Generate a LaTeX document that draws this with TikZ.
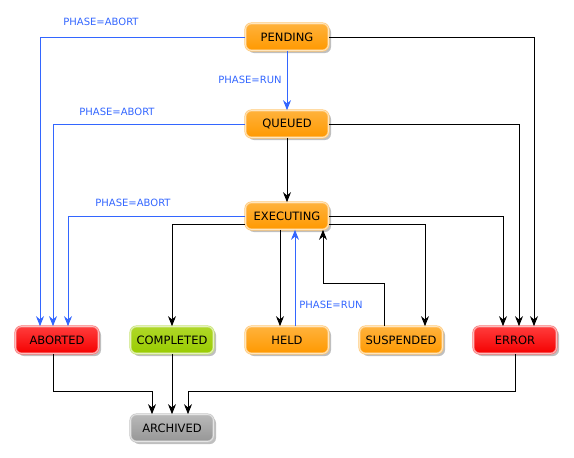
\documentclass[tikz,border=0pt]{standalone}
\usepackage{fontspec}
\setmainfont{DejaVu Sans}
\usetikzlibrary{arrows.meta,shadows,calc}
\definecolor{lblue}{RGB}{51,102,255}
\definecolor{orangeA}{RGB}{255,153,0}
\definecolor{orangeB}{RGB}{255,178,60}
\definecolor{redA}{RGB}{245,0,0}
\definecolor{redB}{RGB}{255,60,60}
\definecolor{greenA}{RGB}{153,204,0}
\definecolor{greenB}{RGB}{175,215,40}
\definecolor{greyA}{RGB}{150,150,150}
\definecolor{greyB}{RGB}{185,185,185}
\tikzset{
  state/.style n args={3}{rounded corners=6pt, minimum width=83pt, minimum height=27pt,
    inner sep=0pt, top color=#2, bottom color=#1, draw=#1!55!white, line width=0.7pt,
    double=#1!25!white, double distance=0.7pt,
    drop shadow={shadow xshift=2.5pt, shadow yshift=-2.5pt, opacity=0.25, fill=black},
    font=\fontsize{11.5}{13}\selectfont, text=black},
  orangebox/.style={state={orangeA}{orangeB}{}},
  redbox/.style={state={redA}{redB}{}},
  greenbox/.style={state={greenA}{greenB}{}},
  greybox/.style={state={greyA}{greyB}{}},
  conn/.style={draw=black, line width=0.9pt, -{Stealth[length=10pt,width=8pt]}},
  bconn/.style={draw=lblue, line width=0.9pt, -{Stealth[length=10pt,width=8pt]}},
  lbl/.style={text=lblue, font=\fontsize{10}{11}\selectfont, inner sep=0pt},
}
\begin{document}
\begin{tikzpicture}[x=1pt,y=-1pt]
\useasboundingbox (0,0) rectangle (574,458);
\node[orangebox] (pending) at (287,37) {PENDING};
\node[orangebox] (queued) at (287,124) {QUEUED};
\node[orangebox] (executing) at (287,216) {EXECUTING};
\node[redbox] (aborted) at (57,340) {ABORTED};
\node[greenbox] (completed) at (172,340) {COMPLETED};
\node[orangebox] (held) at (287,340) {HELD};
\node[orangebox] (suspended) at (401,340) {SUSPENDED};
\node[redbox] (error) at (515,340) {ERROR};
\node[greybox] (archived) at (172,428) {ARCHIVED};

\node[lbl] (l1) at (101,22) {PHASE=ABORT};
\node[lbl] (l2) at (250,80) {PHASE=RUN};
\node[lbl] (l3) at (117,112) {PHASE=ABORT};
\node[lbl] (l4) at (133,203) {PHASE=ABORT};
\node[lbl] (l5) at (331,305) {PHASE=RUN};

\draw[bconn] (pending.west) -| ([xshift=-17pt]aborted.north);
\draw[bconn] (pending.south) -- (queued.north);
\draw[conn] (pending.east) -| ([xshift=19pt]error.north);
\draw[bconn] (queued.west) -| ([xshift=-4pt]aborted.north);
\draw[conn] (queued.east) -| ([xshift=4pt]error.north);
\draw[conn] (queued.south) -- (executing.north);
\draw[bconn] (executing.west) -| ([xshift=11pt]aborted.north);
\draw[conn] ([yshift=-8pt]executing.west) -| (completed.north);
\draw[conn] ([xshift=-7pt]executing.south) -- ([xshift=-7pt]held.north);
\draw[bconn] ([xshift=8pt]held.north) -- ([xshift=8pt]executing.south);
\draw[conn] ([xshift=-17pt]suspended.north) -- ++(0,-43) -| ([xshift=36pt]executing.south);
\draw[conn] ([yshift=-8pt]executing.east) -| ([xshift=24pt]suspended.north);
\draw[conn] (executing.east) -| ([xshift=-12pt]error.north);
\draw[conn] ([xshift=-4pt]aborted.south) -- ++(0,38) -| ([xshift=-20pt]archived.north);
\draw[conn] (completed.south) -- (archived.north);
\draw[conn] (error.south) -- ++(0,38) -| ([xshift=16pt]archived.north);
\end{tikzpicture}
\end{document}
